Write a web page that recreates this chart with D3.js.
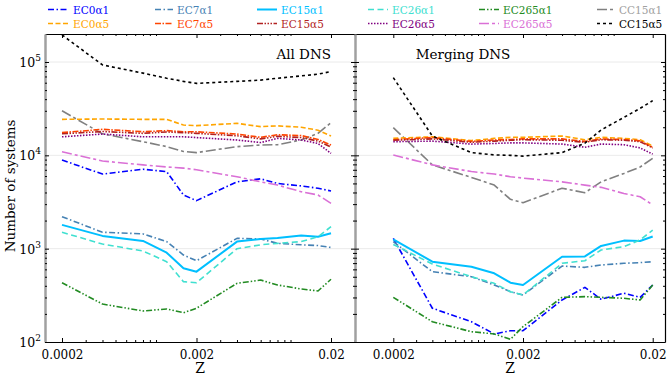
<!DOCTYPE html>
<html><head><meta charset="utf-8">
<script src="https://cdn.jsdelivr.net/npm/d3@7"></script>
<style>body{margin:0;background:#fff}svg{display:block}text{font-family:"DejaVu Serif",serif}</style>
</head><body><svg id="c" width="670" height="377"></svg>
<script>
// ---- data ----
const Z = [0.0002,0.0004,0.0008,0.0012,0.0016,0.002,0.004,0.006,0.008,0.012,0.016,0.02];
const xTickLabels = ["0.0002","0.002","0.02"];
const xTickValues = [0.0002,0.002,0.02];
const yTickValues = [100,1000,10000,100000];
const seriesNames = ["EC0α1","EC7α1","EC15α1","EC26α1","EC265α1","CC15α1","EC0α5","EC7α5","EC15α5","EC26α5","EC265α5","CC15α5"];
const panelTitles = ["All DNS","Merging DNS"];

// All DNS
const allEC0a1   = [8900,6300,7100,6700,3760,3270,5200,5600,5000,4700,4440,4150];
const allEC7a1   = [2200,1500,1440,1190,855,743,1290,1270,1140,1100,1080,1030];
const allEC15a1  = [1800,1370,1210,906,617,567,1190,1270,1300,1380,1340,1460];
const allEC26a1  = [1500,1120,944,725,443,432,1000,1100,1140,1190,1340,1720];
const allEC265a1 = [432,255,215,226,206,230,425,461,408,370,352,470];
const allCC15a1  = [30000,17000,14000,12400,11000,10700,12400,12900,13000,14600,17200,22400];
const allEC0a5   = [24300,24500,24300,24300,21100,20800,22000,20300,20700,20000,18600,16100];
const allEC7a5   = [17500,19000,17900,18400,17900,17900,16900,15600,16600,16300,14800,12900];
const allEC15a5  = [17000,18000,17200,17800,17500,17200,16200,15000,16000,15500,14200,12300];
const allEC26a5  = [15800,16900,15800,15800,15800,15500,14600,13700,15200,14600,13400,10500];
const allEC265a5 = [10900,8700,7900,7500,7300,7000,5900,5200,4800,4080,3760,3060];
const allCC15a5  = [195000,93000,76000,67000,62000,59000,62000,64000,67000,71000,74000,79000];

// Merging DNS
const mrgEC0a1   = [1290,230,165,122,132,132,282,385,287,333,301,408];
const mrgEC7a1   = [1190,566,501,408,346,319,651,631,668,697,709,725];
const mrgEC15a1  = [1260,725,641,545,432,408,820,826,1070,1220,1210,1350];
const mrgEC26a1  = [1110,685,501,425,346,319,697,743,968,1050,1240,1580];
const mrgEC265a1 = [301,165,129,122,107,146,301,306,301,294,282,408];
const mrgCC15a1  = [19800,7900,5800,4800,3380,3110,4440,3980,5200,6400,7500,9300];
const mrgEC0a5   = [15200,15800,14400,15200,15600,15600,16100,14700,15600,15200,14700,12600];
const mrgEC7a5   = [14700,15500,14100,14600,14800,15000,15000,14100,15000,14800,14300,12200];
const mrgEC15a5  = [14500,15000,13800,14200,14500,14700,14500,13800,14700,14500,14000,12000];
const mrgEC26a5  = [14000,14200,13200,13400,13600,13600,13200,12200,13200,13000,12000,10300];
const mrgEC265a5 = [10100,7900,6700,6300,5900,5700,5200,4800,4540,3900,3600,2940];
const mrgCC15a5  = [68000,16100,10700,10100,10000,9800,10700,13500,18700,25500,31900,38500];

// ---- styles ----
const styles = [
  {c:"#0000ff", tc:"#0000ff", w:1.6, d:"6,2.5,1.5,2.5"},
  {c:"#4682b4", tc:"#4682b4", w:1.6, d:"6,2.5,1.5,2.5"},
  {c:"#00bfff", tc:"#00bfff", w:2,   d:null},
  {c:"#40e0d0", tc:"#40e0d0", w:1.6, d:"6,3.5"},
  {c:"#228b22", tc:"#228b22", w:1.6, d:"6,2,1.5,2,1.5,2"},
  {c:"#808080", tc:"#a0a0a0", w:1.6, d:"10,3,3,3"},
  {c:"#ffa500", tc:"#ffa500", w:1.6, d:"5,2.5"},
  {c:"#ff4500", tc:"#ff4500", w:1.6, d:"6,1.5,1.5,1.5"},
  {c:"#b22222", tc:"#b22222", w:1.6, d:"6,1.5,1.5,1.5,1.5,1.5,1.5,1.5"},
  {c:"#800080", tc:"#800080", w:1.6, d:"1.5,1.5"},
  {c:"#da70d6", tc:"#da70d6", w:1.6, d:"10,3,3,3"},
  {c:"#000000", tc:"#000000", w:1.6, d:"3,3"}
];

const allData = [allEC0a1,allEC7a1,allEC15a1,allEC26a1,allEC265a1,allCC15a1,allEC0a5,allEC7a5,allEC15a5,allEC26a5,allEC265a5,allCC15a5];
const mrgData = [mrgEC0a1,mrgEC7a1,mrgEC15a1,mrgEC26a1,mrgEC265a1,mrgCC15a1,mrgEC0a5,mrgEC7a5,mrgEC15a5,mrgEC26a5,mrgEC265a5,mrgCC15a5];

const svg = d3.select("#c");
const yTop = 34, yBot = 342;
const y = d3.scaleLog().domain([100, Math.pow(10,5.3)]).range([yBot, yTop]);

const panels = [
  {x: d3.scaleLog().domain([1.4949e-4, 0.030157]).range([45,355]), data: allData, title: panelTitles[0]},
  {x: d3.scaleLog().domain([1.0133e-4, 0.024878]).range([355,665]), data: mrgData, title: panelTitles[1]}
];

function minorLog(lo, hi, exclude){
  const out=[];
  for(let e=Math.floor(Math.log10(lo))-1;e<=Math.ceil(Math.log10(hi));e++){
    for(let k=1;k<=9;k++){const v=k*Math.pow(10,e); if(v>=lo&&v<=hi&&!exclude.some(t=>Math.abs(t-v)/v<1e-6)) out.push(v);}
  }
  return out;
}
const yMinor = minorLog(100, Math.pow(10,5.3), yTickValues);

// gridlines
[1000,10000,100000].forEach(v=>{
  svg.append("line").attr("x1",45).attr("x2",665).attr("y1",y(v)).attr("y2",y(v))
    .attr("stroke","#e4e4e4").attr("stroke-width",0.8);
});

panels.forEach((p,pi)=>{
  const x = p.x;
  const [x0,x1] = x.range();
  const g = svg.append("g");
  const clipId = "clip"+pi;
  svg.append("clipPath").attr("id",clipId).append("rect").attr("x",x0).attr("y",yTop).attr("width",x1-x0).attr("height",yBot-yTop);

  const line = d3.line().x((d,i)=>x(Z[i])).y(d=>y(d));
  p.data.forEach((arr,si)=>{
    const s = styles[si];
    g.append("path").attr("clip-path","url(#"+clipId+")").datum(arr).attr("d",line)
      .attr("fill","none").attr("stroke",s.c).attr("stroke-width",s.w)
      .attr("stroke-dasharray",s.d).attr("stroke-linejoin","round");
  });

  const xMinor = minorLog(x.domain()[0], x.domain()[1], xTickValues);
  const bx = svg.append("g").attr("transform",`translate(0,${yBot})`);
  bx.call(d3.axisBottom(x).tickValues(xTickValues).tickFormat((d,i)=>xTickLabels[i]).tickSizeInner(-4).tickSizeOuter(0).tickPadding(8));
  bx.append("g").call(d3.axisBottom(x).tickValues(xMinor).tickFormat("").tickSizeInner(-2).tickSizeOuter(0)).select(".domain").remove();
  const tx = svg.append("g").attr("transform",`translate(0,${yTop})`);
  tx.call(d3.axisTop(x).tickValues(xTickValues).tickFormat("").tickSizeInner(-4).tickSizeOuter(0));
  tx.append("g").call(d3.axisTop(x).tickValues(xMinor).tickFormat("").tickSizeInner(-2).tickSizeOuter(0)).select(".domain").remove();
  [bx,tx].forEach(a=>{a.selectAll(".domain").attr("stroke","#000").attr("stroke-width",1.2);a.selectAll("text").attr("font-family","DejaVu Serif").attr("font-size",12).attr("fill","#000");});

  const ly = svg.append("g").attr("transform",`translate(${x0},0)`);
  ly.call(d3.axisRight(y).tickValues(yTickValues).tickFormat("").tickSizeInner(4).tickSizeOuter(0));
  ly.append("g").call(d3.axisRight(y).tickValues(yMinor).tickFormat("").tickSizeInner(2).tickSizeOuter(0)).select(".domain").remove();
  ly.select(".domain").attr("stroke","#a0a0a0").attr("stroke-width",2.5);
  if(pi===1){
    const ly2 = svg.append("g").attr("transform",`translate(${x0},0)`);
    ly2.call(d3.axisLeft(y).tickValues(yTickValues).tickFormat("").tickSizeInner(4).tickSizeOuter(0));
    ly2.append("g").call(d3.axisLeft(y).tickValues(yMinor).tickFormat("").tickSizeInner(2).tickSizeOuter(0));
    ly2.selectAll(".domain").remove();
    const ry = svg.append("g").attr("transform",`translate(${x1},0)`);
    ry.call(d3.axisLeft(y).tickValues(yTickValues).tickFormat("").tickSizeInner(4).tickSizeOuter(0));
    ry.append("g").call(d3.axisLeft(y).tickValues(yMinor).tickFormat("").tickSizeInner(2).tickSizeOuter(0)).select(".domain").remove();
    ry.select(".domain").attr("stroke","#000").attr("stroke-width",1.2);
  }

  svg.append("text").attr("x",(x0+x1)/2).attr("y",373).attr("text-anchor","middle")
    .attr("font-size",14).text("Z");

  if(pi===0){
    svg.append("text").attr("x",331).attr("y",59).attr("text-anchor","end").attr("font-size",13.5).text(p.title);
  } else {
    svg.append("text").attr("x",463).attr("y",59).attr("text-anchor","middle").attr("font-size",13.5).text(p.title);
  }
});

yTickValues.forEach(v=>{
  const e = Math.round(Math.log10(v));
  const t = svg.append("text").attr("x",41).attr("y",y(v)+5).attr("text-anchor","end").attr("font-size",12.5);
  t.append("tspan").text("10");
  t.append("tspan").attr("dy",-6).attr("font-size",9).text(e);
});

svg.append("text").attr("transform","translate(15,186) rotate(-90)").attr("text-anchor","middle")
  .attr("font-size",13.5).text("Number of systems");

const legCols = [[48,73],[155,177],[257,281],[368,392],[479,503],[597,619]];
const legRows = [13,27];
const legOrder = [[0,6],[1,7],[2,8],[3,9],[4,10],[5,11]];
legOrder.forEach((pair,ci)=>{
  pair.forEach((si,ri)=>{
    const s = styles[si];
    const [lx,tx] = legCols[ci];
    const yy = legRows[ri];
    svg.append("line").attr("x1",lx).attr("x2",tx-4).attr("y1",yy-3.5).attr("y2",yy-3.5)
      .attr("stroke",s.c).attr("stroke-width",s.w).attr("stroke-dasharray",s.d);
    svg.append("text").attr("x",tx).attr("y",yy+1).attr("font-size",10.5).attr("fill",s.tc).text(seriesNames[si]);
  });
});
</script></body></html>
